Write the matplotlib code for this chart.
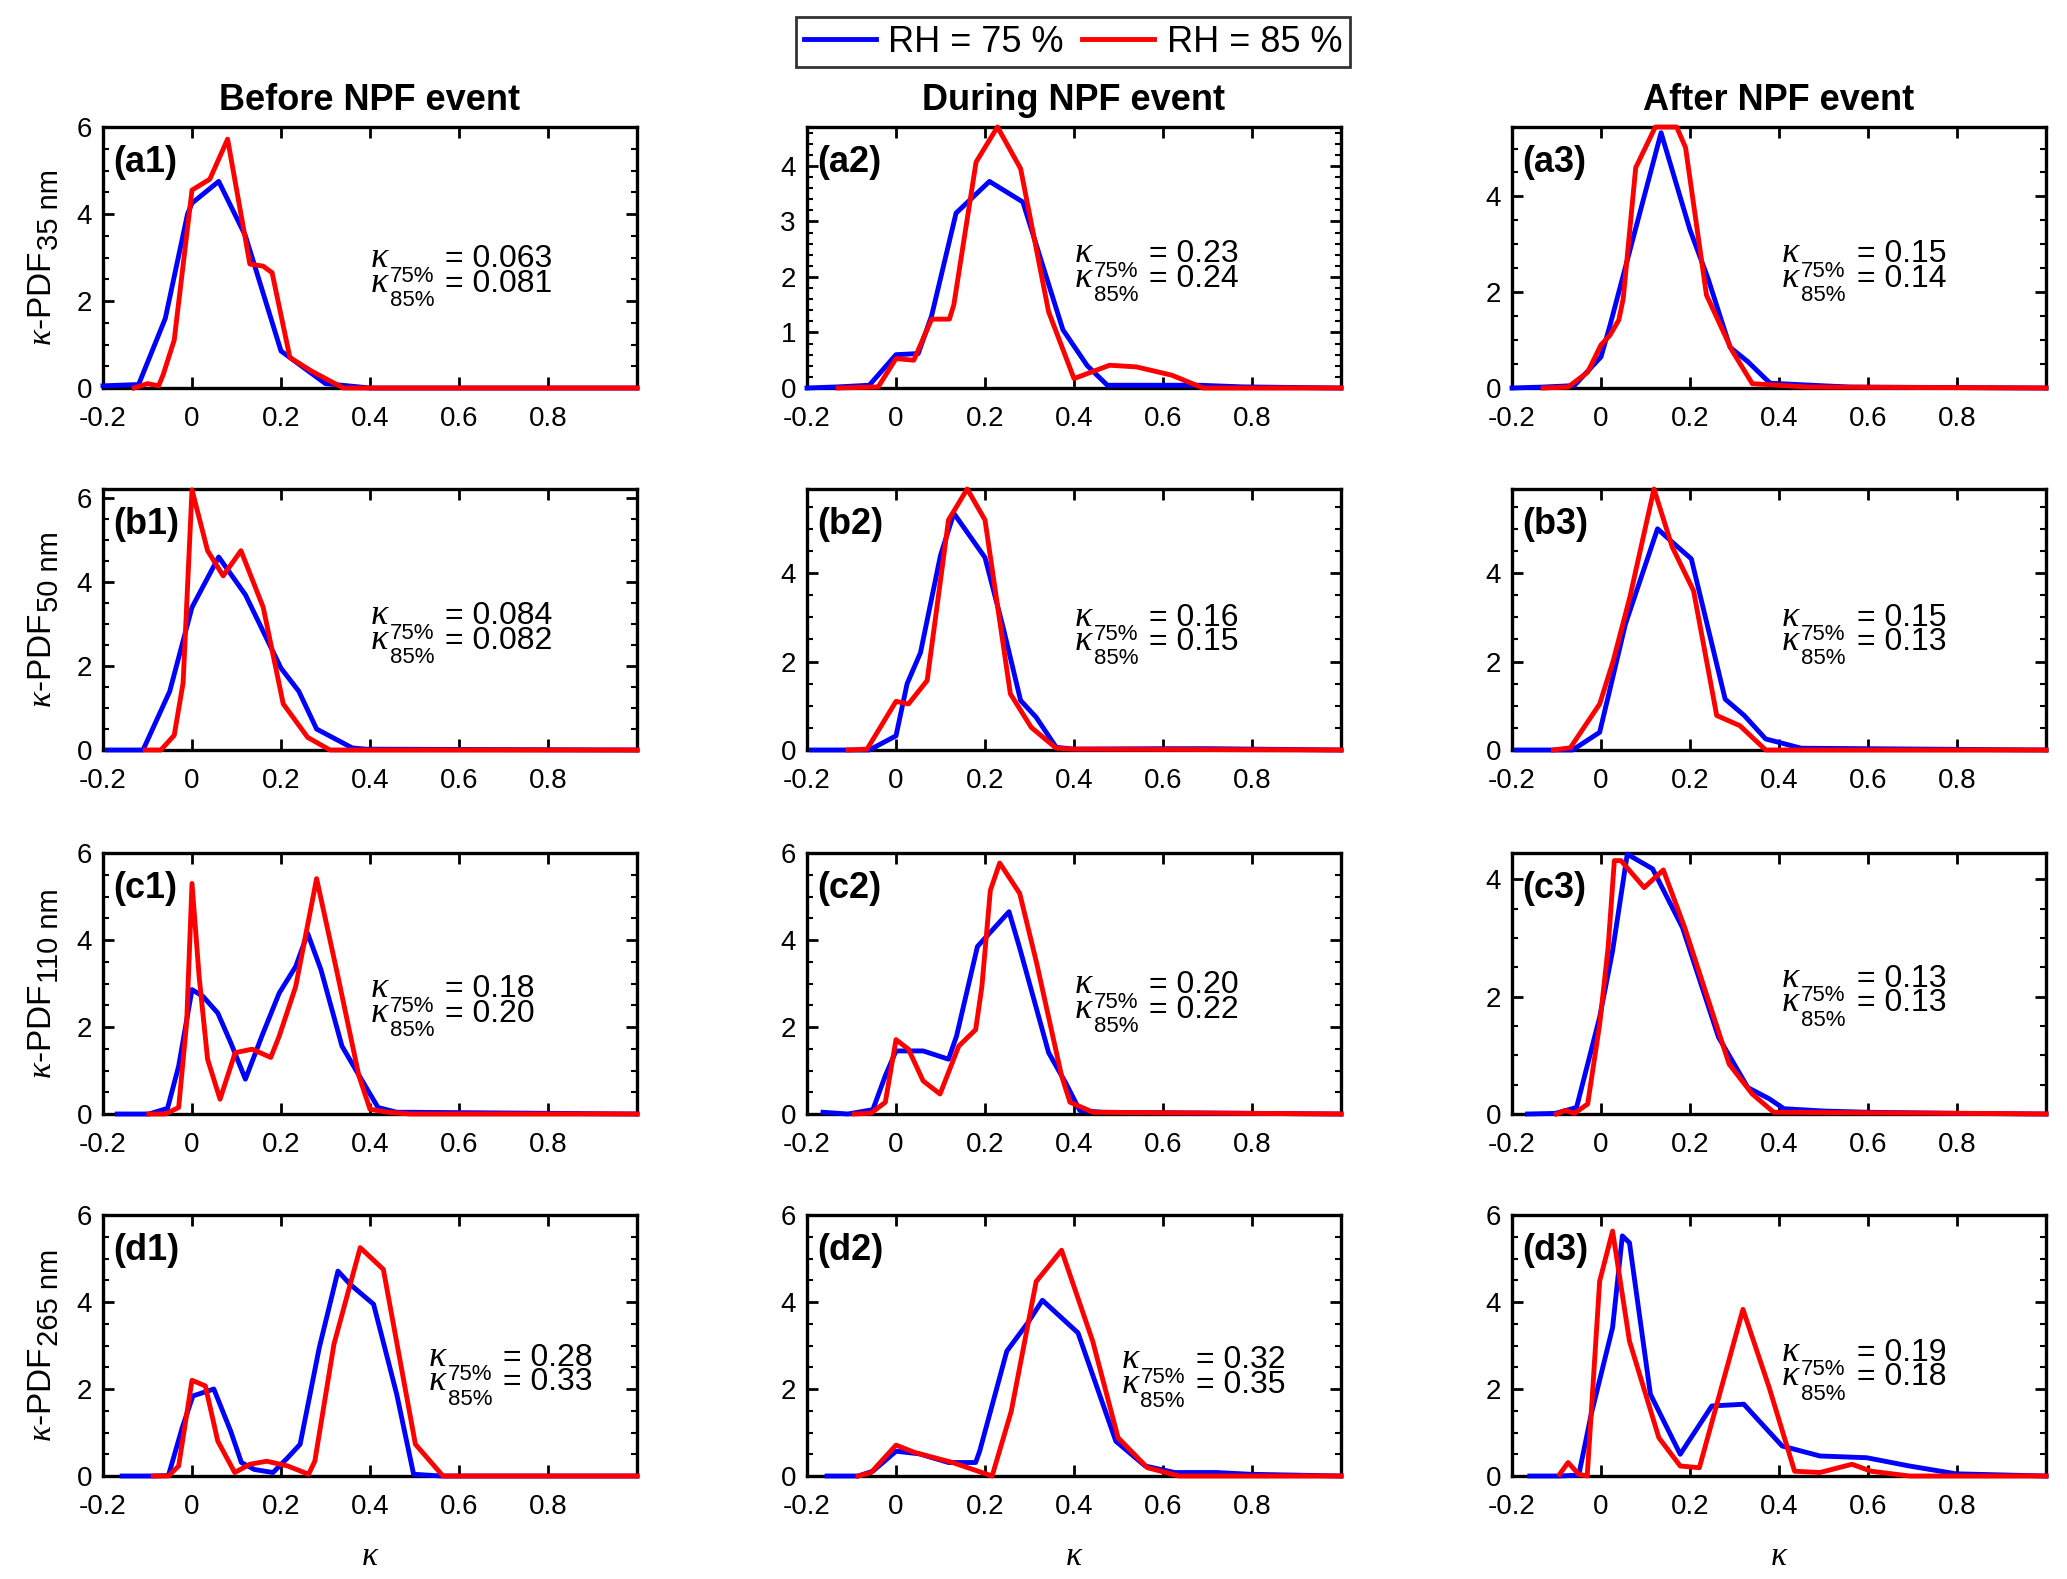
import matplotlib
matplotlib.use("Agg")
import matplotlib.pyplot as plt
from matplotlib.ticker import AutoMinorLocator
import matplotlib.transforms as mtransforms

plt.rcParams['font.family'] = ['Liberation Sans', 'DejaVu Sans']
plt.rcParams['mathtext.fontset'] = 'custom'
plt.rcParams['mathtext.rm'] = 'Liberation Sans'
plt.rcParams['mathtext.it'] = 'Liberation Serif:italic'
plt.rcParams['mathtext.bf'] = 'Liberation Sans:bold'

# ---------------- data (kappa, PDF) ----------------
# Row a: 35 nm
a1_x75 = [-0.2, -0.12, -0.06, -0.01, 0.0, 0.06, 0.12, 0.2, 0.24, 0.3, 0.36, 0.4, 1.0]
a1_y75 = [0.05, 0.08, 1.6, 4.0, 4.25, 4.75, 3.5, 0.85, 0.55, 0.1, 0.04, 0.0, 0.0]
a1_x85 = [-0.13, -0.1, -0.075, -0.065, -0.04, 0.0, 0.04, 0.08, 0.13, 0.16, 0.18, 0.22, 0.27, 0.34, 1.0]
a1_y85 = [0.0, 0.1, 0.05, 0.3, 1.1, 4.55, 4.8, 5.72, 2.85, 2.8, 2.65, 0.7, 0.38, 0.0, 0.0]

a2_x75 = [-0.2, -0.13, -0.06, 0.0, 0.05, 0.08, 0.135, 0.21, 0.285, 0.375, 0.43, 0.475, 0.68, 0.78, 1.0]
a2_y75 = [0.0, 0.02, 0.05, 0.6, 0.62, 1.3, 3.15, 3.72, 3.35, 1.05, 0.4, 0.05, 0.05, 0.02, 0.0]
a2_x85 = [-0.13, -0.04, 0.0, 0.04, 0.08, 0.12, 0.13, 0.18, 0.228, 0.28, 0.343, 0.4, 0.48, 0.54, 0.62, 0.69, 1.0]
a2_y85 = [0.0, 0.02, 0.53, 0.5, 1.24, 1.24, 1.5, 4.07, 4.7, 3.95, 1.37, 0.17, 0.41, 0.38, 0.23, 0.0, 0.0]

a3_x75 = [-0.2, -0.13, -0.06, 0.0, 0.02, 0.135, 0.2, 0.24, 0.29, 0.33, 0.38, 0.49, 0.56, 1.0]
a3_y75 = [0.0, 0.02, 0.05, 0.65, 1.3, 5.33, 3.3, 2.3, 0.85, 0.55, 0.1, 0.05, 0.02, 0.0]
a3_x85 = [-0.13, -0.074, -0.03, 0.0, 0.02, 0.04, 0.05, 0.078, 0.122, 0.17, 0.19, 0.237, 0.294, 0.34, 0.465, 1.0]
a3_y85 = [0.0, 0.02, 0.33, 0.9, 1.1, 1.42, 1.87, 4.6, 5.45, 5.45, 5.02, 1.94, 0.79, 0.09, 0.02, 0.0]

# Row b: 50 nm
b1_x75 = [-0.19, -0.11, -0.05, 0.0, 0.06, 0.12, 0.2, 0.24, 0.28, 0.36, 0.39, 1.0]
b1_y75 = [0.0, 0.0, 1.4, 3.4, 4.6, 3.7, 1.95, 1.4, 0.5, 0.05, 0.02, 0.0]
b1_x85 = [-0.105, -0.07, -0.04, -0.02, 0.0, 0.035, 0.07, 0.11, 0.16, 0.205, 0.26, 0.31, 1.0]
b1_y85 = [0.0, 0.0, 0.35, 1.6, 6.2, 4.75, 4.15, 4.75, 3.4, 1.1, 0.3, 0.0, 0.0]

b2_x75 = [-0.19, -0.11, -0.06, 0.0, 0.025, 0.055, 0.1, 0.13, 0.2, 0.24, 0.28, 0.315, 0.36, 0.4, 0.6, 0.7, 1.0]
b2_y75 = [0.0, 0.0, 0.0, 0.32, 1.5, 2.2, 4.4, 5.35, 4.35, 2.8, 1.12, 0.74, 0.06, 0.02, 0.03, 0.03, 0.0]
b2_x85 = [-0.108, -0.065, 0.0, 0.028, 0.07, 0.118, 0.16, 0.2, 0.257, 0.304, 0.36, 0.4, 1.0]
b2_y85 = [0.0, 0.02, 1.1, 1.04, 1.57, 5.2, 5.9, 5.2, 1.27, 0.51, 0.04, 0.02, 0.0]

b3_x75 = [-0.19, -0.11, -0.064, -0.003, 0.055, 0.127, 0.16, 0.203, 0.279, 0.322, 0.37, 0.412, 0.45, 1.0]
b3_y75 = [0.0, 0.0, 0.0, 0.4, 2.85, 5.0, 4.7, 4.32, 1.15, 0.78, 0.25, 0.14, 0.04, 0.0]
b3_x85 = [-0.107, -0.069, -0.003, 0.027, 0.065, 0.119, 0.16, 0.208, 0.26, 0.312, 0.37, 1.0]
b3_y85 = [0.0, 0.05, 1.04, 2.0, 3.46, 5.9, 4.59, 3.6, 0.78, 0.55, 0.0, 0.0]

# Row c: 110 nm
c1_x75 = [-0.168, -0.097, -0.055, -0.03, 0.0, 0.025, 0.058, 0.087, 0.12, 0.157, 0.196, 0.233, 0.26,
          0.29, 0.337, 0.385, 0.418, 0.46, 0.49, 1.0]
c1_y75 = [0.0, 0.0, 0.13, 1.1, 2.86, 2.7, 2.32, 1.64, 0.8, 1.79, 2.78, 3.39, 4.15,
          3.31, 1.56, 0.72, 0.15, 0.04, 0.04, 0.0]
c1_x85 = [-0.097, -0.06, -0.03, -0.012, 0.0, 0.016, 0.035, 0.063, 0.097, 0.135, 0.177, 0.196, 0.233,
          0.28, 0.328, 0.375, 0.4, 0.44, 0.49, 1.0]
c1_y85 = [0.0, 0.0, 0.15, 2.1, 5.3, 3.16, 1.26, 0.34, 1.41, 1.49, 1.3, 1.79, 2.93,
          5.41, 3.16, 0.88, 0.11, 0.04, 0.0, 0.0]

c2_x75 = [-0.164, -0.108, -0.052, -0.024, 0.0, 0.061, 0.118, 0.136, 0.183, 0.254, 0.277, 0.343,
          0.381, 0.413, 0.465, 1.0]
c2_y75 = [0.04, 0.0, 0.1, 0.88, 1.45, 1.45, 1.26, 1.79, 3.85, 4.65, 3.85, 1.41,
          0.72, 0.08, 0.04, 0.0]
c2_x85 = [-0.094, -0.056, -0.024, 0.0, 0.028, 0.061, 0.099, 0.141, 0.179, 0.193, 0.212, 0.233,
          0.278, 0.316, 0.372, 0.391, 0.443, 1.0]
c2_y85 = [0.0, 0.02, 0.27, 1.71, 1.49, 0.76, 0.46, 1.56, 1.94, 2.93, 5.14, 5.77,
          5.07, 3.47, 0.88, 0.27, 0.04, 0.0]

c3_x75 = [-0.165, -0.103, -0.055, -0.03, -0.003, 0.026, 0.059, 0.116, 0.183, 0.264, 0.33, 0.378,
          0.411, 0.502, 0.598, 0.807, 1.0]
c3_y75 = [0.0, 0.01, 0.11, 0.85, 1.65, 2.78, 4.43, 4.18, 3.18, 1.31, 0.45, 0.26,
          0.09, 0.05, 0.03, 0.01, 0.0]
c3_x85 = [-0.1, -0.08, -0.06, -0.03, -0.003, 0.016, 0.03, 0.045, 0.097, 0.14, 0.188, 0.288,
          0.34, 0.388, 0.85, 1.0]
c3_y85 = [0.0, 0.06, 0.01, 0.17, 1.53, 2.84, 4.32, 4.32, 3.86, 4.16, 3.18, 0.85,
          0.34, 0.03, 0.01, 0.0]

# Row d: 265 nm
d1_x75 = [-0.157, -0.09, -0.053, -0.022, 0.002, 0.049, 0.087, 0.111, 0.14, 0.182, 0.215, 0.243,
          0.286, 0.328, 0.356, 0.408, 0.46, 0.498, 0.56, 1.0]
d1_y75 = [0.0, 0.0, 0.01, 1.11, 1.84, 2.0, 1.03, 0.31, 0.15, 0.08, 0.42, 0.73,
          2.95, 4.71, 4.4, 3.95, 1.88, 0.04, 0.0, 0.0]
d1_x85 = [-0.087, -0.053, -0.03, 0.0, 0.03, 0.058, 0.096, 0.13, 0.168, 0.215, 0.262, 0.276,
          0.319, 0.378, 0.43, 0.502, 0.564, 1.0]
d1_y85 = [0.0, 0.0, 0.23, 2.2, 2.07, 0.8, 0.08, 0.27, 0.34, 0.23, 0.04, 0.34,
          3.03, 5.25, 4.75, 0.73, 0.0, 0.0]

d2_x75 = [-0.155, -0.085, -0.052, 0.0, 0.052, 0.118, 0.179, 0.188, 0.249, 0.296, 0.329, 0.409,
          0.494, 0.56, 0.626, 0.72, 0.795, 1.0]
d2_y75 = [0.0, 0.0, 0.11, 0.57, 0.51, 0.31, 0.31, 0.57, 2.87, 3.52, 4.04, 3.29,
          0.8, 0.23, 0.08, 0.08, 0.04, 0.0]
d2_x85 = [-0.085, -0.056, 0.0, 0.042, 0.127, 0.216, 0.259, 0.315, 0.372, 0.442, 0.499, 0.565, 0.636, 1.0]
d2_y85 = [0.0, 0.08, 0.71, 0.54, 0.31, 0.0, 1.49, 4.47, 5.19, 3.1, 0.88, 0.19, 0.0, 0.0]

d3_x75 = [-0.16, -0.093, -0.05, -0.022, 0.026, 0.048, 0.064, 0.111, 0.178, 0.249, 0.321, 0.407,
          0.492, 0.597, 0.693, 0.798, 1.0]
d3_y75 = [0.0, 0.0, 0.02, 1.42, 3.41, 5.52, 5.36, 1.88, 0.5, 1.61, 1.65, 0.69,
          0.46, 0.42, 0.23, 0.05, 0.0]
d3_x85 = [-0.093, -0.074, -0.05, -0.031, -0.003, 0.026, 0.064, 0.13, 0.178, 0.221, 0.319, 0.378,
          0.435, 0.492, 0.564, 0.607, 0.693, 1.0]
d3_y85 = [0.04, 0.31, 0.04, 0.0, 4.48, 5.63, 3.1, 0.88, 0.23, 0.19, 3.83, 2.03,
          0.11, 0.08, 0.27, 0.11, 0.0, 0.0]

# mean kappa annotations
kappa75 = ['0.063', '0.23', '0.15', '0.084', '0.16', '0.15', '0.18', '0.20', '0.13', '0.28', '0.32', '0.19']
kappa85 = ['0.081', '0.24', '0.14', '0.082', '0.15', '0.13', '0.20', '0.22', '0.13', '0.33', '0.35', '0.18']

panel_labels = ['(a1)', '(a2)', '(a3)', '(b1)', '(b2)', '(b3)', '(c1)', '(c2)', '(c3)', '(d1)', '(d2)', '(d3)']
col_titles = ['Before NPF event', 'During NPF event', 'After NPF event']
row_sizes = ['35 nm', '50 nm', '110 nm', '265 nm']
legend_labels = ['RH = 75 %', 'RH = 85 %']
xticks = [-0.2, 0, 0.2, 0.4, 0.6, 0.8]
xtick_labels = ['-0.2', '0', '0.2', '0.4', '0.6', '0.8']
ymax = [6, 4.7, 5.45, 6.22, 5.9, 5.9, 6, 6, 4.45, 6, 6, 6]
ystep = [2, 1, 2, 2, 2, 2, 2, 2, 2, 2, 2, 2]

series = [
    (a1_x75, a1_y75, a1_x85, a1_y85), (a2_x75, a2_y75, a2_x85, a2_y85), (a3_x75, a3_y75, a3_x85, a3_y85),
    (b1_x75, b1_y75, b1_x85, b1_y85), (b2_x75, b2_y75, b2_x85, b2_y85), (b3_x75, b3_y75, b3_x85, b3_y85),
    (c1_x75, c1_y75, c1_x85, c1_y85), (c2_x75, c2_y75, c2_x85, c2_y85), (c3_x75, c3_y75, c3_x85, c3_y85),
    (d1_x75, d1_y75, d1_x85, d1_y85), (d2_x75, d2_y75, d2_x85, d2_y85), (d3_x75, d3_y75, d3_x85, d3_y85),
]

# layout (annotation anchor: data x, axes-fraction baseline of first line)
ann_x = [0.40, 0.40, 0.405, 0.40, 0.40, 0.405, 0.40, 0.40, 0.405, 0.53, 0.505, 0.405]
ann_y = [0.462, 0.482, 0.482, 0.482, 0.477, 0.477, 0.447, 0.462, 0.487, 0.422, 0.412, 0.442]

W, H = 2067, 1579
DPI = 100
fig = plt.figure(figsize=(W / DPI, H / DPI), dpi=DPI)
renderer = fig.canvas.get_renderer()
col_left = [103, 807, 1512]
row_top = [127, 489, 853, 1215]
aw, ah = 534, 261

FS = 20          # tick labels
ANN = 23         # annotation main text
ANN_K = 26       # annotation kappa symbol
ANN_SUB = 16     # annotation subscript
YL = 24          # y label main
YL_SUB = 21      # y label subscript


def text_width_pts(s, size, **kw):
    t = fig.text(0, 0, s, fontsize=size, **kw)
    bb = t.get_window_extent(renderer)
    t.remove()
    return bb.width * 72.0 / DPI


def offset(tr, dx_pt, dy_pt):
    return tr + mtransforms.ScaledTranslation(dx_pt / 72.0, dy_pt / 72.0, fig.dpi_scale_trans)


k_w = text_width_pts(r'$\kappa$', ANN_K)
sub_w = text_width_pts('75%', ANN_SUB)
eq_dx = k_w + sub_w + 8.0
LINE_GAP = 17.5
SUB_DROP = 10.5

lines_for_legend = None
for i in range(12):
    r, c = divmod(i, 3)
    ax = fig.add_axes([col_left[c] / W, 1 - (row_top[r] + ah) / H, aw / W, ah / H])
    x75, y75, x85, y85 = series[i]
    l1, = ax.plot(x75, y75, color=(0, 0, 1), lw=3.5, zorder=3, clip_on=False)
    l2, = ax.plot(x85, y85, color=(1, 0, 0), lw=3.5, zorder=4, clip_on=False)
    if lines_for_legend is None:
        lines_for_legend = (l1, l2)
    ax.set_xlim(-0.2, 1.0)
    ax.set_ylim(0, ymax[i])
    ax.set_xticks(xticks)
    ax.set_xticklabels(xtick_labels)
    yt = list(range(0, int(ymax[i]) + 1, ystep[i]))
    ax.set_yticks(yt)
    ax.yaxis.set_minor_locator(AutoMinorLocator())
    ax.tick_params(axis='both', which='major', direction='in', length=8, width=2,
                   top=True, right=True, labelsize=FS)
    ax.tick_params(axis='x', which='major', pad=13)
    ax.tick_params(axis='y', which='major', pad=8)
    ax.tick_params(axis='y', which='minor', direction='in', length=4, width=1.5,
                   left=True, right=True)
    for sp in ax.spines.values():
        sp.set_linewidth(2.4)
    ax.text(0.02, 0.865, panel_labels[i], transform=ax.transAxes, fontsize=26,
            fontweight='bold', ha='left', va='center', zorder=6)

    # kappa annotations, built piecewise (large, deeply dropped subscripts as in the original)
    trans = mtransforms.blended_transform_factory(ax.transData, ax.transAxes)
    for j, (sub, val) in enumerate((('75%', kappa75[i]), ('85%', kappa85[i]))):
        dy = -LINE_GAP * j
        ax.text(ann_x[i], ann_y[i], r'$\kappa$', transform=offset(trans, 0, dy),
                fontsize=ANN_K, ha='left', va='baseline', zorder=6)
        ax.text(ann_x[i], ann_y[i], sub, transform=offset(trans, k_w, dy - SUB_DROP),
                fontsize=ANN_SUB, ha='left', va='baseline', zorder=6)
        ax.text(ann_x[i], ann_y[i], '= ' + val, transform=offset(trans, eq_dx, dy),
                fontsize=ANN, ha='left', va='baseline', zorder=6)

    if c == 0:
        # y label: "kappa-PDF" with a large subscript, rotated
        main_s = r'$\kappa$-PDF'
        main_w = text_width_pts(main_s, YL)
        sub_s = row_sizes[r]
        sub_len = text_width_pts(sub_s, YL_SUB)
        total = main_w + sub_len + 1.0
        start = -total / 2.0
        base = ax.transAxes
        ax.text(-0.098, 0.5, main_s, transform=offset(base, 0, start), rotation=90,
                rotation_mode='anchor', ha='left', va='baseline', fontsize=YL, clip_on=False)
        ax.text(-0.098, 0.5, sub_s, transform=offset(base, 5.0, start + main_w + 1.0), rotation=90,
                rotation_mode='anchor', ha='left', va='baseline', fontsize=YL_SUB, clip_on=False)
    if r == 0:
        ax.set_title(col_titles[c], fontsize=26, fontweight='bold', pad=12)
    if r == 3:
        ax.set_xlabel(r'$\kappa$', fontsize=FS + 4)
        ax.xaxis.set_label_coords(0.5, -0.25)

leg = fig.legend(lines_for_legend, legend_labels, loc='center', ncol=2,
                 bbox_to_anchor=(1073 / W, 1 - 42 / H), fontsize=26, frameon=True,
                 fancybox=False, edgecolor='black', handlelength=2.0, handletextpad=0.35,
                 columnspacing=0.5, borderpad=0.2, borderaxespad=0)
leg.get_frame().set_linewidth(2)

fig.savefig('out.png', dpi=DPI, facecolor='white')
